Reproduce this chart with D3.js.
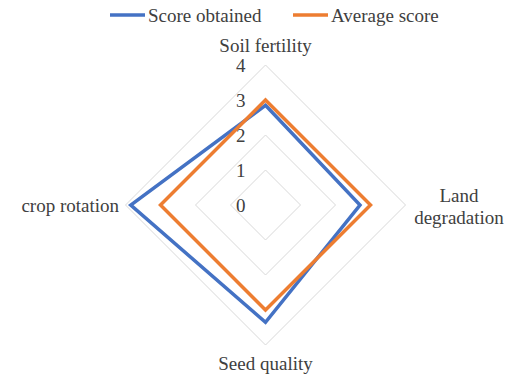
<!DOCTYPE html>
<html>
<head>
<meta charset="utf-8">
<script src="https://cdn.jsdelivr.net/npm/d3@7"></script>
<style>
  body { margin: 0; background: #fff; }
</style>
</head>
<body>
<svg id="chart" width="510" height="384"></svg>
<script>
// chart values
var axes = ["Soil fertility", "Land degradation", "Seed quality", "crop rotation"];
var scoreObtained = [2.85, 2.7, 3.35, 3.85];
var averageScore = [3, 3, 3, 3];
var ticks = [0, 1, 2, 3, 4];
var seriesNames = ["Score obtained", "Average score"];
var colors = ["#4472C4", "#ED7D31"];

var svg = d3.select("#chart")
  .style("font-family", "'Liberation Serif', 'DejaVu Serif', serif");
var cx = 265.5, cy = 205;
var fs = "19px";
var textColor = "#404040";

var r = d3.scaleLinear().domain([0, 4]).range([0, 140]);
var angle = d3.scalePoint().domain(axes).range([0, 2 * Math.PI * 3 / 4]);

function pt(a, v) {
  var t = angle(a);
  return [cx + r(v) * Math.sin(t), cy - r(v) * Math.cos(t)];
}

var g = svg.append("g");

// grid diamonds
g.selectAll("polygon.grid")
  .data(ticks.slice(1))
  .enter()
  .append("polygon")
  .attr("class", "grid")
  .attr("points", d => axes.map(a => pt(a, d).join(",")).join(" "))
  .attr("fill", "none")
  .attr("stroke", "#d9d9d9")
  .attr("stroke-width", 1);

// tick labels
g.selectAll("text.tick")
  .data(ticks)
  .enter()
  .append("text")
  .attr("class", "tick")
  .attr("x", cx - 20)
  .attr("y", d => cy - r(d))
  .attr("dy", "0.35em")
  .attr("text-anchor", "end")
  .attr("fill", textColor)
  .style("font-size", fs)
  .text(d => d);

// series lines
var line = d3.line().curve(d3.curveLinearClosed);
var series = [scoreObtained, averageScore];
g.selectAll("path.series")
  .data(series)
  .enter()
  .append("path")
  .attr("class", "series")
  .attr("d", vals => line(axes.map((a, i) => pt(a, vals[i]))))
  .attr("fill", "none")
  .attr("stroke", (d, i) => colors[i])
  .attr("stroke-width", 3.5)
  .attr("stroke-linejoin", "miter");

// category labels
g.append("text").attr("x", cx).attr("y", 52).attr("text-anchor", "middle")
  .attr("fill", textColor).style("font-size", fs).text(axes[0]);
var land = g.append("text").attr("x", 459).attr("y", 195).attr("text-anchor", "middle")
  .attr("fill", textColor).style("font-size", fs);
var parts = axes[1].split(" ");
land.append("tspan").attr("x", 459).attr("dy", "0.35em").text(parts[0]);
land.append("tspan").attr("x", 459).attr("dy", "1.15em").text(parts[1]);
g.append("text").attr("x", cx).attr("y", 363).attr("dy", "0.35em").attr("text-anchor", "middle")
  .attr("fill", textColor).style("font-size", fs).text(axes[2]);
g.append("text").attr("x", 119).attr("y", cy).attr("dy", "0.35em").attr("text-anchor", "end")
  .attr("fill", textColor).style("font-size", fs).text(axes[3]);

// legend
var legendX = [110, 293];
var leg = svg.selectAll("g.legend")
  .data(seriesNames)
  .enter()
  .append("g")
  .attr("class", "legend")
  .attr("transform", (d, i) => "translate(" + legendX[i] + ",15)");
leg.append("line")
  .attr("x1", 0).attr("x2", 35)
  .attr("stroke", (d, i) => colors[i])
  .attr("stroke-width", 3.5);
leg.append("text")
  .attr("x", 38)
  .attr("dy", "0.35em")
  .attr("fill", textColor)
  .style("font-size", fs)
  .text(d => d);
</script>
</body>
</html>
